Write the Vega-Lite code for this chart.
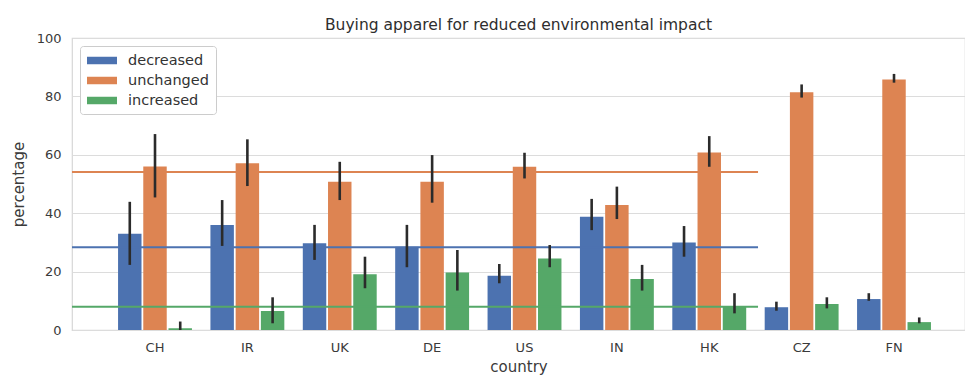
{
  "$schema": "https://vega.github.io/schema/vega-lite/v6.json",
  "autosize": {"type": "none"},
  "width": 893,
  "height": 292,
  "padding": {"left": 72, "top": 38, "right": 0, "bottom": 48},
  "background": "white",
  "title": {
    "text": "Buying apparel for reduced environmental impact",
    "font": "DejaVu Sans",
    "fontSize": 15.5,
    "fontWeight": "normal",
    "color": "#2e2e2e",
    "anchor": "middle",
    "frame": "group",
    "offset": -1
  },
  "datasets": {
    "bars": [
      {"country": "CH", "response": "decreased", "pct": 33.0, "lo": 22.3, "hi": 43.9},
      {"country": "CH", "response": "unchanged", "pct": 56.0, "lo": 45.4, "hi": 67.1},
      {"country": "CH", "response": "increased", "pct": 0.6, "lo": 0.0, "hi": 2.9},
      {"country": "IR", "response": "decreased", "pct": 36.0, "lo": 28.8, "hi": 44.5},
      {"country": "IR", "response": "unchanged", "pct": 57.1, "lo": 49.3, "hi": 65.3},
      {"country": "IR", "response": "increased", "pct": 6.5, "lo": 2.3, "hi": 11.2},
      {"country": "UK", "response": "decreased", "pct": 29.7, "lo": 24.0, "hi": 36.0},
      {"country": "UK", "response": "unchanged", "pct": 50.8, "lo": 44.5, "hi": 57.6},
      {"country": "UK", "response": "increased", "pct": 19.1, "lo": 14.3, "hi": 25.1},
      {"country": "DE", "response": "decreased", "pct": 28.5, "lo": 21.5, "hi": 36.0},
      {"country": "DE", "response": "unchanged", "pct": 50.8, "lo": 43.6, "hi": 59.9},
      {"country": "DE", "response": "increased", "pct": 19.7, "lo": 13.5, "hi": 27.4},
      {"country": "US", "response": "decreased", "pct": 18.6, "lo": 16.0, "hi": 22.6},
      {"country": "US", "response": "unchanged", "pct": 55.9, "lo": 51.9, "hi": 60.7},
      {"country": "US", "response": "increased", "pct": 24.5, "lo": 21.5, "hi": 29.1},
      {"country": "IN", "response": "decreased", "pct": 38.8, "lo": 34.2, "hi": 44.9},
      {"country": "IN", "response": "unchanged", "pct": 42.8, "lo": 38.0, "hi": 49.1},
      {"country": "IN", "response": "increased", "pct": 17.5, "lo": 13.5, "hi": 22.3},
      {"country": "HK", "response": "decreased", "pct": 30.0, "lo": 25.1, "hi": 35.6},
      {"country": "HK", "response": "unchanged", "pct": 60.8, "lo": 55.9, "hi": 66.4},
      {"country": "HK", "response": "increased", "pct": 8.2, "lo": 5.7, "hi": 12.6},
      {"country": "CZ", "response": "decreased", "pct": 7.8, "lo": 6.6, "hi": 9.7},
      {"country": "CZ", "response": "unchanged", "pct": 81.4, "lo": 79.6, "hi": 84.1},
      {"country": "CZ", "response": "increased", "pct": 8.9, "lo": 7.4, "hi": 11.2},
      {"country": "FN", "response": "decreased", "pct": 10.6, "lo": 10.0, "hi": 12.6},
      {"country": "FN", "response": "unchanged", "pct": 85.8, "lo": 84.7, "hi": 87.7},
      {"country": "FN", "response": "increased", "pct": 2.7, "lo": 2.3, "hi": 4.3}
    ],
    "means": [
      {"response": "decreased", "mean": 28.3, "from": "CH", "to": "CZ"},
      {"response": "unchanged", "mean": 54.1, "from": "CH", "to": "CZ"},
      {"response": "increased", "mean": 8.0, "from": "CH", "to": "CZ"}
    ]
  },
  "config": {
    "font": "DejaVu Sans",
    "view": {"stroke": "#d6d6d6", "strokeWidth": 1.2},
    "axis": {
      "labelFont": "DejaVu Sans",
      "titleFont": "DejaVu Sans",
      "labelFontSize": 13,
      "titleFontSize": 15,
      "labelColor": "#3a3a3a",
      "titleColor": "#3a3a3a",
      "titleFontWeight": "normal",
      "ticks": false,
      "domain": false,
      "gridColor": "#dcdcdc",
      "gridWidth": 1.2
    }
  },
  "encoding": {
    "x": {
      "field": "country",
      "type": "nominal",
      "scale": {
        "domain": ["CH", "IR", "UK", "DE", "US", "IN", "HK", "CZ", "FN"],
        "paddingInner": 0.2,
        "paddingOuter": 0.4335,
        "align": 0.575
      },
      "axis": {"title": "country", "labelAngle": 0, "labelPadding": 11, "titlePadding": 5, "grid": false}
    }
  },
  "layer": [
    {
      "data": {"name": "bars"},
      "mark": {"type": "bar"},
      "encoding": {
        "xOffset": {
          "field": "response",
          "type": "nominal",
          "scale": {"domain": ["decreased", "unchanged", "increased"], "paddingInner": 0.07, "paddingOuter": 0}
        },
        "y": {
          "field": "pct",
          "type": "quantitative",
          "scale": {"domain": [0, 100], "nice": false},
          "axis": {"title": "percentage", "values": [0, 20, 40, 60, 80, 100], "labelPadding": 11, "titlePadding": 10}
        },
        "color": {
          "field": "response",
          "type": "nominal",
          "scale": {"domain": ["decreased", "unchanged", "increased"], "range": ["#4c72b0", "#dd8452", "#55a868"]},
          "legend": {
            "title": null,
            "orient": "top-left",
            "offset": 8,
            "fillColor": "white",
            "strokeColor": "#cccccc",
            "cornerRadius": 3,
            "padding": 7,
            "symbolType": "M-1,-0.5H3V0.5H-1Z",
            "symbolSize": 225,
            "symbolStrokeWidth": 0,
            "symbolOpacity": 1,
            "labelFont": "DejaVu Sans",
            "labelFontSize": 14.5,
            "labelColor": "#333333",
            "labelOffset": 26,
            "rowPadding": 5
          }
        }
      }
    },
    {
      "data": {"name": "means"},
      "mark": {"type": "rule", "strokeWidth": 2},
      "encoding": {
        "x": {"field": "from", "type": "nominal", "bandPosition": -0.623},
        "x2": {"field": "to", "bandPosition": -0.09},
        "y": {"field": "mean", "type": "quantitative"},
        "color": {"field": "response", "type": "nominal"}
      }
    },
    {
      "data": {"name": "bars"},
      "mark": {"type": "rule", "strokeWidth": 2.6, "color": "#2b2b2b"},
      "encoding": {
        "xOffset": {"field": "response", "type": "nominal"},
        "y": {"field": "lo", "type": "quantitative"},
        "y2": {"field": "hi"}
      }
    }
  ]
}
